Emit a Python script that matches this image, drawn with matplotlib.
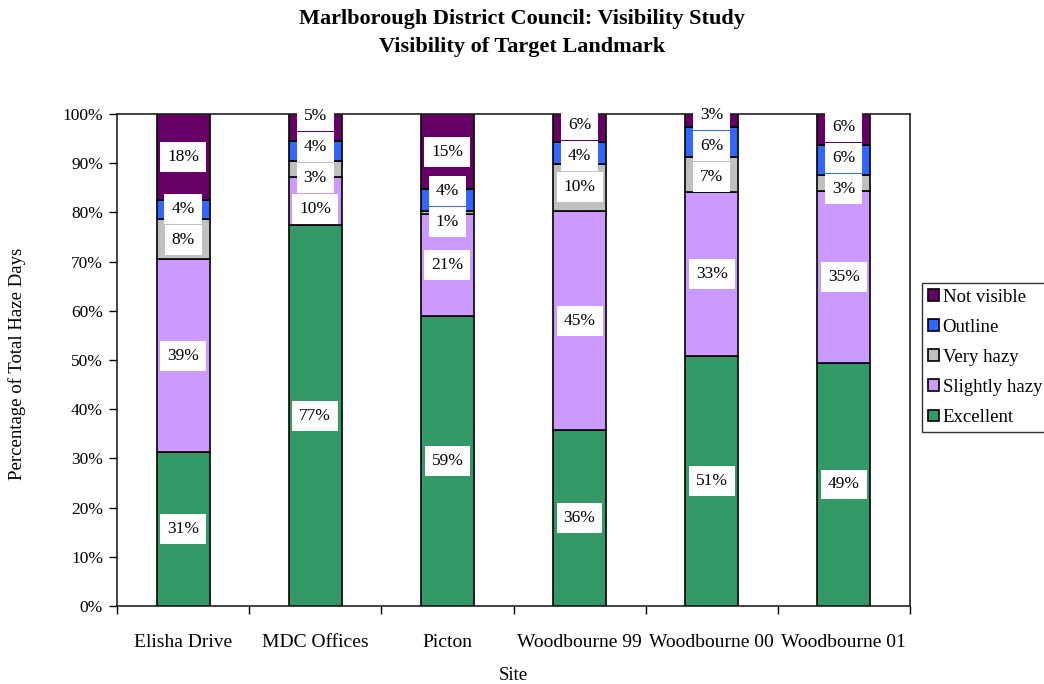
import matplotlib
matplotlib.use("Agg")
import matplotlib.pyplot as plt
import numpy as np

plt.rcParams['font.family'] = ['Liberation Serif', 'DejaVu Serif']

sites = ["Elisha Drive", "MDC Offices", "Picton", "Woodbourne 99", "Woodbourne 00", "Woodbourne 01"]
categories = ["Excellent", "Slightly hazy", "Very hazy", "Outline", "Not visible"]
colors = ["#339966", "#CC99FF", "#C0C0C0", "#3366FF", "#660066"]

# percent of haze days, per site
excellent = [31.2, 77.4, 58.9, 35.7, 50.8, 49.4]
slightly_hazy = [39.3, 9.7, 20.7, 44.6, 33.3, 34.9]
very_hazy = [8.1, 3.4, 0.7, 9.6, 7.1, 3.3]
outline = [3.9, 4.1, 4.4, 4.4, 6.2, 6.0]
not_visible = [17.5, 5.4, 15.3, 5.7, 2.6, 6.4]

series = [excellent, slightly_hazy, very_hazy, outline, not_visible]

fig = plt.figure(figsize=(10.44, 6.84), dpi=100)
ax = fig.add_axes([117/1044, 1-606/684, 793/1044, 492/684])

x = np.arange(len(sites))
bottom = np.zeros(len(sites))
tops = []
for vals, name, col in zip(series, categories, colors):
    vals = np.array(vals, dtype=float)
    ax.bar(x, vals, 0.4, bottom=bottom, color=col, edgecolor='black',
           linewidth=1.2, label=name, zorder=2)
    tops.append((bottom.copy(), vals))
    bottom = bottom + vals

# data labels, pushed apart where they would overlap
gap = 6.3
for j in range(len(sites)):
    ys = [b[j] + v[j] / 2 for b, v in tops]
    for _ in range(200):
        for i in range(len(ys) - 1):
            d = ys[i + 1] - ys[i]
            if d < gap:
                s = (gap - d) / 2
                ys[i] -= s
                ys[i + 1] += s
    for (b, v), yy in zip(tops, ys):
        ax.text(x[j], yy, f"{round(v[j]):d}%", ha='center', va='center',
                fontsize=12.5, zorder=4,
                bbox=dict(boxstyle='square,pad=0.4', fc='white', ec='none'))

ax.set_xlim(-0.5, len(sites) - 0.5)
ax.set_ylim(0, 100)
ax.set_yticks(np.arange(0, 101, 10))
ax.set_yticklabels([f"{v}%" for v in range(0, 101, 10)], fontsize=12.5)
ax.set_xticks(x)
ax.set_xticklabels(sites, fontsize=14)
ax.set_xticks(np.arange(-0.5, len(sites), 1), minor=True)
ax.tick_params(axis='x', which='major', length=0, pad=20)
ax.tick_params(axis='x', which='minor', length=6, width=1, direction='out')
ax.tick_params(axis='y', length=6, width=1, direction='out', pad=4)
for sp in ax.spines.values():
    sp.set_linewidth(1.2)
    sp.set_color('#222222')

fig.text(17/1044, 1-364/684, "Percentage of Total Haze Days", rotation=90,
         ha='center', va='center', fontsize=13.5)
fig.text(513/1044, 1-676/684, "Site", ha='center', va='center', fontsize=13.5)
fig.text(0.5, 1-19/684, "Marlborough District Council: Visibility Study",
         ha='center', va='center', fontsize=16, fontweight='bold')
fig.text(0.5, 1-47/684, "Visibility of Target Landmark",
         ha='center', va='center', fontsize=16, fontweight='bold')

h, l = ax.get_legend_handles_labels()
leg = fig.legend(h[::-1], l[::-1], loc='upper left',
                 bbox_to_anchor=(922/1044, 1-283/684), fontsize=13.5,
                 frameon=True, fancybox=False, handlelength=0.6,
                 handleheight=0.6, handletextpad=0.2, labelspacing=0.7,
                 borderpad=0.3, borderaxespad=0)
leg.get_frame().set_edgecolor('black')
leg.get_frame().set_linewidth(1)

fig.savefig("out.png", dpi=100)
